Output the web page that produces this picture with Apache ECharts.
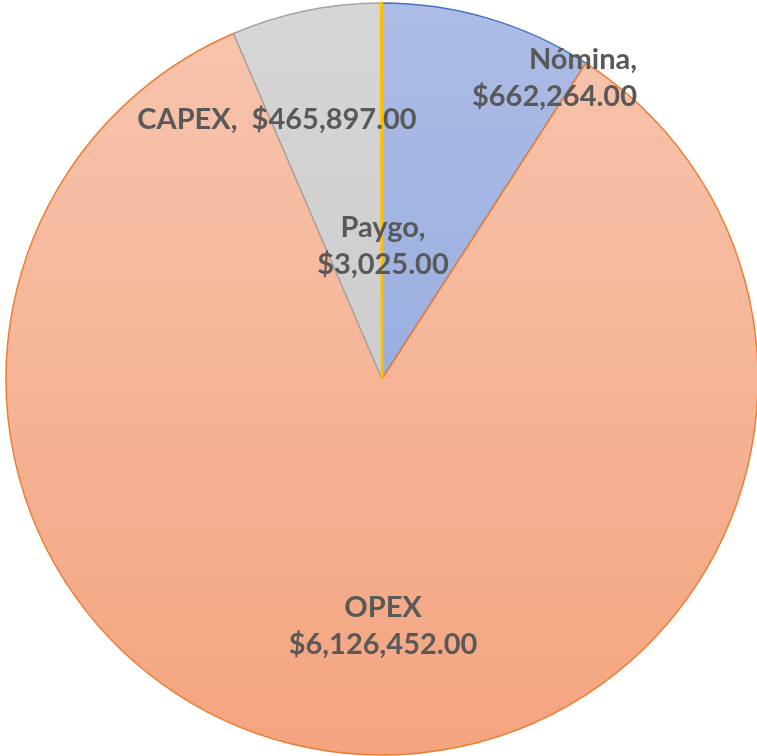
<!DOCTYPE html>
<html><head><meta charset="utf-8">
<script src="https://cdn.jsdelivr.net/npm/echarts@6/dist/echarts.min.js"></script>
<style>html,body{margin:0;padding:0;background:#fff}#c{width:757px;height:756px}</style>
</head><body><div id="c"></div>
<script>
const categories = ['Nómina', 'OPEX', 'CAPEX', 'Paygo'];
const values = [662264, 6126452, 465897, 3025];

const fills = [
  ['#adbce5', '#88a2da'],
  ['#f7c5ae', '#f4a47f'],
  ['#d6d6d6', '#c4c4c4'],
  ['#ffd966', '#ffc000']
];
const borders = ['#4472c4', '#ed7d31', '#a5a5a5', '#ffc000'];
const labelPos = [
  {x: 637, y: 78, align: 'right'},
  {x: 383, y: 626, align: 'center'},
  {x: 277, y: 120, align: 'center'},
  {x: 383, y: 246, align: 'center'}
];
const fmt = v => '$' + v.toLocaleString('en-US', {minimumFractionDigits: 2, maximumFractionDigits: 2});
const labelText = [
  (n, v) => n + ',\n' + fmt(v),
  (n, v) => n + '\n' + fmt(v),
  (n, v) => n + ',  ' + fmt(v),
  (n, v) => n + ',\n' + fmt(v)
];

const chart = echarts.init(document.getElementById('c'), null, {renderer: 'canvas'});
chart.setOption({
  animation: false,
  series: [{
    type: 'pie',
    center: [382, 379],
    radius: [0, 376],
    startAngle: 90,
    clockwise: true,
    minAngle: 0,
    avoidLabelOverlap: false,
    data: categories.map((n, i) => ({
      name: n,
      value: values[i],
      itemStyle: {
        color: new echarts.graphic.LinearGradient(0, 4, 0, 755, [
          {offset: 0, color: fills[i][0]},
          {offset: 1, color: fills[i][1]}
        ], true),
        borderColor: borders[i],
        borderWidth: i === 3 ? 2.5 : 1.5
      },
      label: {
        formatter: p => labelText[i](p.name, p.value)
      }
    })),
    label: {
      show: true,
      position: 'inside',
      color: '#595959',
      fontFamily: 'Lato',
      fontWeight: 'bold',
      fontSize: 29,
      lineHeight: 37
    },
    labelLine: {show: false},
    labelLayout: function (p) {
      const lp = labelPos[p.dataIndex];
      return {x: lp.x, y: lp.y, align: lp.align, verticalAlign: 'middle'};
    },
    emphasis: {disabled: true}
  }]
});
</script></body></html>
